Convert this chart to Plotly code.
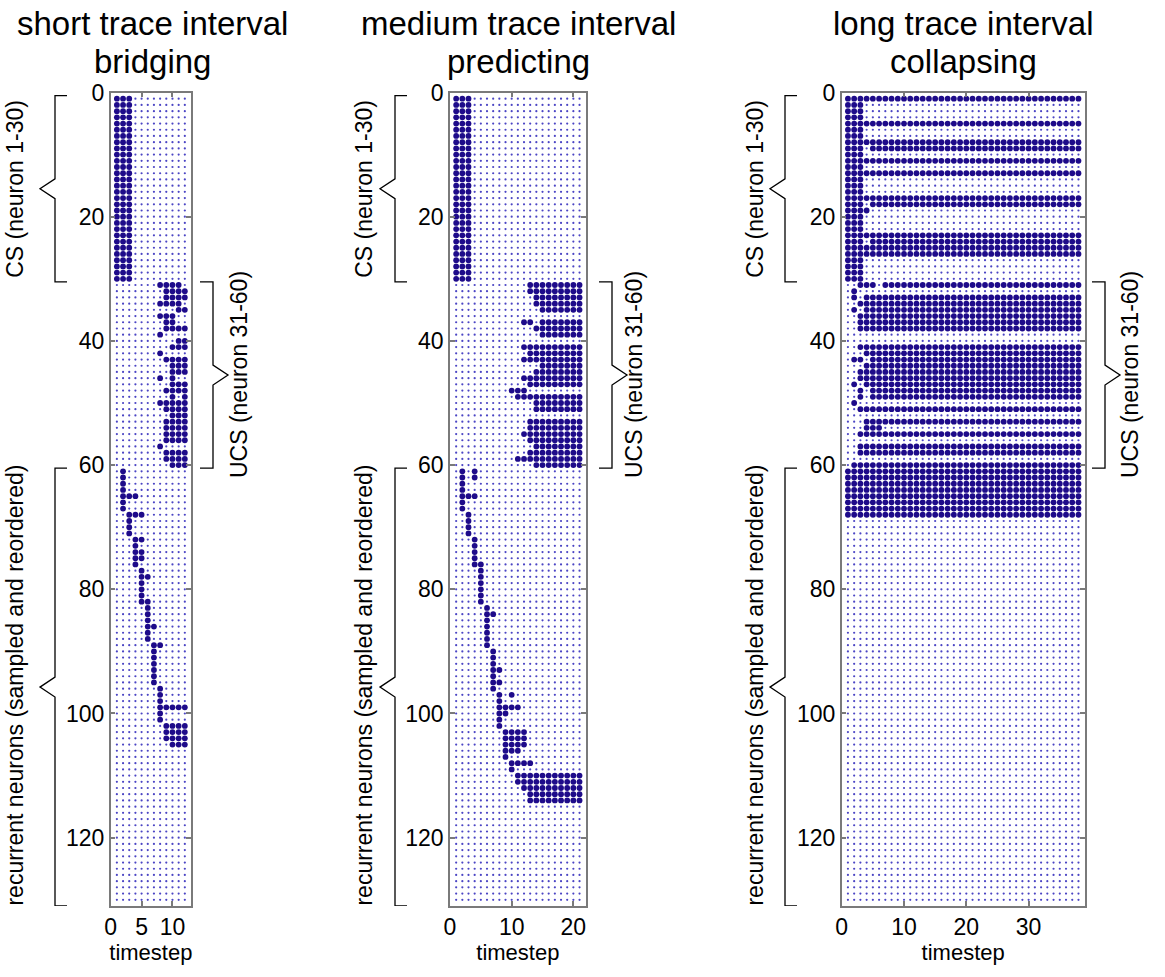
import plotly.graph_objects as go

# ---------------- data ----------------
n_neurons = 130
short_T = 12
medium_T = 21
long_T = 38

short_active = {
    "1-30": "1-3",
    "31": "8-11", "32": "9-12", "33": "9-12", "34": "8-11", "35": "11-12",
    "36": "8-10", "37": "9-10", "38": "9-12", "39": "8", "40": "11-12",
    "41": "10-12", "42": "8", "43": "9-12", "44": "10-12", "45": "10-12",
    "46": "8,10", "47": "10-12", "48": "9-12", "49": "10,12", "50": "8-12",
    "51": "9-12", "52": "10-12", "53": "9-12", "54": "9-12", "55": "9-12",
    "56": "9-12", "57": "8", "58": "9-12", "59": "9-12", "60": "10-12",
    "61-64": "2", "65": "2-4", "66-67": "2", "68": "3-5", "69-71": "3",
    "72": "4-5", "73": "4", "74-75": "4-5", "76": "4", "77": "5", "78": "5-6",
    "79-81": "5", "82": "5-6", "83-85": "6", "86": "6-7", "87-88": "6",
    "89": "7-8", "90-95": "7", "96-98": "8", "99": "8-12", "100-101": "8",
    "102-104": "9-12", "105": "10-12",
}

medium_active = {
    "1-30": "1-3",
    "31": "13-21", "32": "13-21", "33": "14-21", "34": "14-21", "35": "15-21",
    "37": "12-13,15-21", "38": "14-21", "39": "15-21",
    "41": "12-21", "42": "13-21", "43": "12-21", "44": "15-21", "45": "14-21",
    "46": "12-21", "47": "13-21", "48": "10-12", "49": "11-21", "50": "14-21",
    "51": "14-21", "53": "13-21", "54": "13-21", "55": "12-21", "56": "13-21",
    "57": "14-21", "58": "13-21", "59": "11-21", "60": "14-21",
    "61-62": "2,4", "63-64": "2", "65": "2-4", "66-67": "2", "68-71": "3",
    "72-75": "4", "76": "4-5", "77-82": "5", "83": "6", "84": "6-7",
    "85-89": "6", "90-92": "7", "93": "7-8", "94": "7", "95": "7-8", "96": "7",
    "97": "8,10", "98": "8", "99": "8-11", "100": "8-9", "101-102": "8",
    "103-105": "9-12", "106": "9-11", "107": "9", "108": "10-13", "109": "10",
    "110-111": "11-21", "112": "12-21", "113-114": "13-21",
}

long_active = {
    "1": "1-38", "2-4": "1-3", "5": "1-38", "6-7": "1-3", "8": "1-38",
    "9": "1-3,5-38", "10": "1-3", "11": "1-38", "12": "1-3", "13": "1-38",
    "14-16": "1-3", "17": "1-38", "18": "1-3,5-38", "19": "1-4", "20-22": "1-3",
    "23": "1-38", "24": "1-3,5-38", "25-26": "1-38", "27-30": "1-3",
    "31": "3-5,7-38", "32": "2", "33": "2,4-38", "34": "3-38", "35": "2,4-38",
    "36-38": "3-38", "41": "3-38", "42": "4-38", "43": "2-3,5-38", "44": "4-38",
    "45-46": "3-38", "47": "2,4-38", "48-49": "3,5-38", "50": "2", "51": "3-38",
    "53": "4-38", "54": "4-6", "55": "3-38", "57-58": "3-38", "60": "2-38",
    "61-68": "1-38",
}

titles_line1 = ["short trace interval", "medium trace interval", "long trace interval"]
titles_line2 = ["bridging", "predicting", "collapsing"]
x_tickvals = [[0, 5, 10], [0, 10, 20], [0, 10, 20, 30]]
y_tickvals = [0, 20, 40, 60, 80, 100, 120]
brace_labels = ["CS (neuron 1-30)", "UCS (neuron 31-60)",
                "recurrent neurons (sampled and reordered)"]


def parse(spec):
    out = []
    for part in spec.split(","):
        if "-" in part:
            a, b = part.split("-")
            out.extend(range(int(a), int(b) + 1))
        else:
            out.append(int(part))
    return out


def cells(active):
    xs, ys = [], []
    for rows, times in active.items():
        for r in parse(rows):
            for t in parse(times):
                xs.append(t)
                ys.append(r)
    return xs, ys


# ---------------- layout geometry (pixels) ----------------
W, H = 1165, 977
def px(x):
    return x / W
def py(y):
    return 1 - y / H

x_dom = [(110.7, 191.0), (450.0, 585.7), (841.7, 1084.7)]
y_top, y_bot = 92.5, 906.0

panels = [(short_T, short_active), (medium_T, medium_active), (long_T, long_active)]

fig = go.Figure()
BIG = "#1e0b8a"
SMALL = "#4b45c4"
font_family = "Liberation Sans, Arial, Helvetica, sans-serif"

for i, (T, active) in enumerate(panels):
    xa = "x" if i == 0 else f"x{i+1}"
    ya = "y" if i == 0 else f"y{i+1}"
    gx = [t for r in range(1, n_neurons + 1) for t in range(1, T + 1)]
    gy = [r for r in range(1, n_neurons + 1) for t in range(1, T + 1)]
    fig.add_trace(go.Scatter(x=gx, y=gy, mode="markers", xaxis=xa, yaxis=ya,
                             marker=dict(size=2.2, color=SMALL, line=dict(width=0)),
                             hoverinfo="skip", showlegend=False))
    ax, ay = cells(active)
    fig.add_trace(go.Scatter(x=ax, y=ay, mode="markers", xaxis=xa, yaxis=ya,
                             marker=dict(size=5.8, color=BIG, line=dict(width=0)),
                             showlegend=False))

axis_common = dict(showline=True, linecolor="#7a7a7a", linewidth=1.5, mirror="ticks",
                   ticks="inside", ticklen=5, tickwidth=1.5, tickcolor="#7a7a7a",
                   showgrid=False, zeroline=False, automargin=False,
                   tickfont=dict(size=23, color="black", family=font_family))

layout = dict(width=W, height=H, margin=dict(l=0, r=0, t=0, b=0, autoexpand=False),
              paper_bgcolor="white", plot_bgcolor="white",
              font=dict(family=font_family, color="black"))

for i, (T, active) in enumerate(panels):
    sx = "xaxis" if i == 0 else f"xaxis{i+1}"
    sy = "yaxis" if i == 0 else f"yaxis{i+1}"
    ya = "y" if i == 0 else f"y{i+1}"
    xa = "x" if i == 0 else f"x{i+1}"
    layout[sx] = dict(axis_common, domain=[px(x_dom[i][0]), px(x_dom[i][1])],
                      range=[0, T + 1], tickvals=x_tickvals[i], anchor=ya,
                      title=dict(text="timestep", font=dict(size=22), standoff=2))
    layout[sy] = dict(axis_common, domain=[py(y_bot), py(y_top)],
                      range=[n_neurons + 1, 0], tickvals=y_tickvals, anchor=xa)

fig.update_layout(**layout)

annotations = []
shapes = []
title_cx = [152, 518, 963]
for i in range(3):
    annotations.append(dict(text=titles_line1[i], x=px(title_cx[i]), y=py(24), xref="paper",
                            yref="paper", showarrow=False, font=dict(size=33),
                            xanchor="center", yanchor="middle"))
    annotations.append(dict(text=titles_line2[i], x=px(title_cx[i]), y=py(62), xref="paper",
                            yref="paper", showarrow=False, font=dict(size=33),
                            xanchor="center", yanchor="middle"))

left_x = [55, 395, 785]
right_x = [213, 612, 1105]
label_left = [15, 364, 755]
label_right = [239, 634, 1130]

def brace(yref, xv, xe, xt, r0, r1):
    mid = (r0 + r1) / 2
    d = 1.6
    path = (f"M {px(xe)},{r0} L {px(xv)},{r0} L {px(xv)},{mid - d} "
            f"L {px(xt)},{mid} L {px(xv)},{mid + d} L {px(xv)},{r1} L {px(xe)},{r1}")
    return dict(type="path", path=path, xref="paper", yref=yref,
                line=dict(color="black", width=1.3))

for i in range(3):
    ya = "y" if i == 0 else f"y{i+1}"
    shapes.append(brace(ya, left_x[i], left_x[i] + 12, left_x[i] - 15, 0.5, 30.5))
    shapes.append(brace(ya, left_x[i], left_x[i] + 12, left_x[i] - 15, 60.5, 131))
    shapes.append(brace(ya, right_x[i], right_x[i] - 13, right_x[i] + 15, 30.5, 60.5))
    for txt, xx, yy in [(brace_labels[0], label_left[i], 15.5),
                        (brace_labels[2], label_left[i], 95.5),
                        (brace_labels[1], label_right[i], 45.5)]:
        annotations.append(dict(text=txt, x=px(xx), y=yy, xref="paper", yref=ya,
                                showarrow=False, textangle=-90, font=dict(size=23),
                                xanchor="center", yanchor="middle"))

fig.update_layout(annotations=annotations, shapes=shapes)
fig.write_html("out.html")
